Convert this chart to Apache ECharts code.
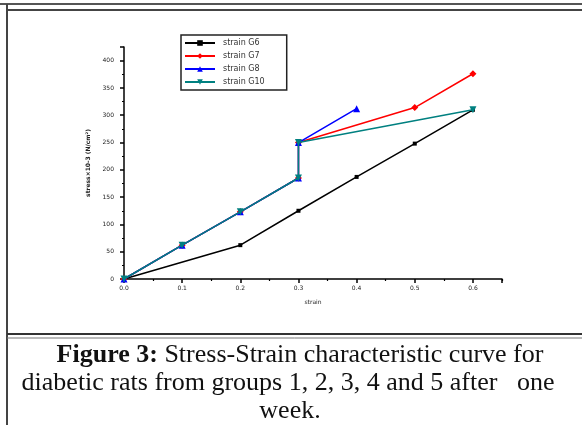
<!DOCTYPE html>
<html>
<head>
<meta charset="utf-8">
<script src="https://cdn.jsdelivr.net/npm/echarts@6/dist/echarts.min.js"></script>
<style>
  html, body { margin: 0; padding: 0; background: #fff; }
  #chart { width: 582px; height: 425px; }
</style>
</head>
<body>
<div id="chart"></div>
<script>
// series names
const seriesNames = ['strain G6', 'strain G7', 'strain G8', 'strain G10']

// strain (x) and stress x10-3 (y) per group
const g6Strain = [0, 0.2, 0.3, 0.4, 0.5, 0.6]
const g6Stress = [0, 62, 125, 187, 248, 310]
const g7Strain = [0, 0.1, 0.2, 0.3, 0.3, 0.5, 0.6]
const g7Stress = [0, 62, 123, 185, 250, 314, 376]
const g8Strain = [0, 0.1, 0.2, 0.3, 0.3, 0.4]
const g8Stress = [0, 62, 123, 185, 250, 312]
const g10Strain = [0, 0.1, 0.2, 0.3, 0.3, 0.6]
const g10Stress = [0, 62, 123, 185, 250, 310]

const captionLines = [
  '{b|Figure 3:} Stress-Strain characteristic curve for',
  'diabetic rats from groups 1, 2, 3, 4 and 5 after   one',
  'week.',
]

const pairs = (xs, ys) => xs.map((x, i) => [x, ys[i]])

const colors = ['#000000', '#ff0000', '#0000ff', '#008080']
const symbols = ['rect', 'diamond', 'triangle', 'triangle']
const rotations = [0, 0, 0, 180]
const seriesData = [
  pairs(g6Strain, g6Stress),
  pairs(g7Strain, g7Stress),
  pairs(g8Strain, g8Stress),
  pairs(g10Strain, g10Stress),
]

const chart = echarts.init(document.getElementById('chart'), null, { renderer: 'canvas' })

const tinyLabel = { fontSize: 6, color: '#222', fontFamily: 'DejaVu Sans' }
const captionCenters = [300, 288, 290]

chart.setOption({
  animation: false,
  backgroundColor: '#fff',
  grid: { left: 124, right: 80, top: 47, bottom: 146 },
  legend: {
    orient: 'vertical',
    left: 181,
    top: 35,
    itemWidth: 30,
    itemHeight: 7,
    itemGap: 5,
    padding: [4, 22, 4, 3],
    borderColor: '#222',
    borderWidth: 1.5,
    textStyle: { fontSize: 8, color: '#333', fontFamily: 'DejaVu Sans', padding: [0, 0, 0, 3] },
    data: seriesNames,
  },
  xAxis: {
    type: 'value',
    min: 0,
    max: 0.65,
    interval: 0.1,
    name: 'strain',
    nameLocation: 'middle',
    nameGap: 20,
    nameTextStyle: tinyLabel,
    splitLine: { show: false },
    axisLine: { lineStyle: { color: '#000', width: 1.5 } },
    axisTick: { inside: false, length: 4, lineStyle: { color: '#000', width: 1.5 } },
    minorTick: { show: true, splitNumber: 2, length: 2, lineStyle: { color: '#000', width: 1.2 } },
    axisLabel: { ...tinyLabel, margin: 6, showMaxLabel: false, formatter: v => v.toFixed(1) },
  },
  yAxis: {
    type: 'value',
    min: 0,
    max: 425,
    interval: 50,
    name: 'stress×10-3 (N/cm²)',
    nameLocation: 'middle',
    nameGap: 28,
    nameRotate: 90,
    nameTextStyle: { ...tinyLabel, fontWeight: 'bold' },
    splitLine: { show: false },
    axisLine: { show: true, lineStyle: { color: '#000', width: 1.5 } },
    axisTick: { show: true, inside: false, length: 4, lineStyle: { color: '#000', width: 1.5 } },
    minorTick: { show: true, splitNumber: 2, length: 2, lineStyle: { color: '#000', width: 1.2 } },
    axisLabel: { ...tinyLabel, margin: 10, showMaxLabel: false },
  },
  series: seriesNames.map((name, i) => ({
    name,
    type: 'line',
    data: seriesData[i],
    symbol: symbols[i],
    symbolSize: i === 0 ? 4 : 7,
    symbolRotate: rotations[i],
    showAllSymbol: true,
    lineStyle: { color: colors[i], width: 1.5 },
    itemStyle: { color: colors[i] },
    z: 2 + i,
  })),
  graphic: [
    // table-style frame around figure
    { type: 'line', shape: { x1: 0, y1: 4, x2: 582, y2: 4 }, style: { stroke: '#555', lineWidth: 2 } },
    { type: 'line', shape: { x1: 7, y1: 10, x2: 582, y2: 10 }, style: { stroke: '#444', lineWidth: 2 } },
    { type: 'line', shape: { x1: 7, y1: 4, x2: 7, y2: 425 }, style: { stroke: '#444', lineWidth: 2 } },
    { type: 'line', shape: { x1: 7, y1: 334, x2: 582, y2: 334 }, style: { stroke: '#333', lineWidth: 2 } },
    { type: 'line', shape: { x1: 7, y1: 338, x2: 582, y2: 338 }, style: { stroke: '#777', lineWidth: 1 } },
    // caption, one centred line each
    ...captionLines.map((line, i) => ({
      type: 'text',
      x: captionCenters[i],
      y: 355 + i * 28,
      style: {
        text: line,
        align: 'center',
        verticalAlign: 'middle',
        fontFamily: 'Liberation Serif',
        fontSize: 26,
        fill: '#111',
        rich: {
          b: { fontFamily: 'Liberation Serif', fontSize: 26, fontWeight: 'bold', fill: '#111' },
        },
      },
    })),
  ],
})
</script>
</body>
</html>
